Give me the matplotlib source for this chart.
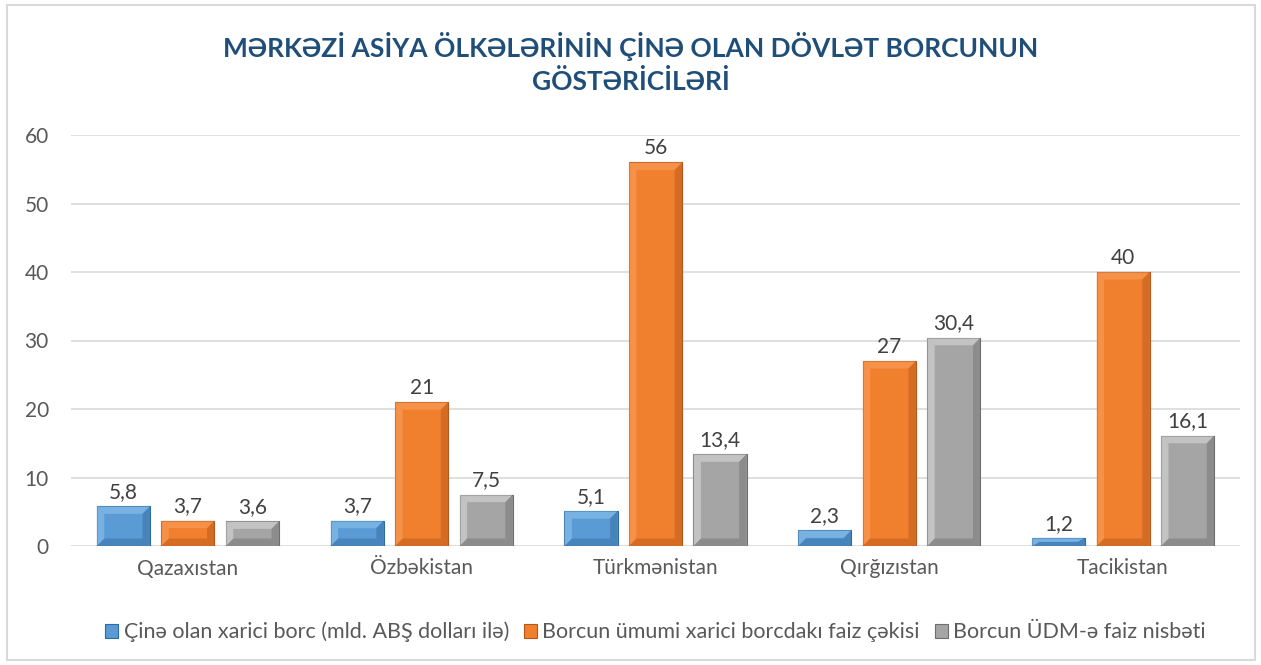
import numpy as np
import matplotlib.pyplot as plt
from matplotlib.patches import Polygon, Rectangle

# Daten
countries = ['Qazaxıstan', 'Özbəkistan', 'Türkmənistan', 'Qırğızıstan', 'Tacikistan']
borc = [5.8, 3.7, 5.1, 2.3, 1.2]           # Çinə olan xarici borc
faiz_cekisi = [3.7, 21, 56, 27, 40]        # faiz çəkisi
udm_nisbeti = [3.6, 7.5, 13.4, 30.4, 16.1]  # ÜDM-ə nisbət
labels = ['Çinə olan xarici borc (mld. ABŞ dolları ilə)',
          'Borcun ümumi xarici borcdakı faiz çəkisi',
          'Borcun ÜDM-ə faiz nisbəti']
title = 'MƏRKƏZİ ASİYA ÖLKƏLƏRİNİN ÇİNƏ OLAN DÖVLƏT BORCUNUN\nGÖSTƏRİCİLƏRİ'

plt.rcParams['font.family'] = ['Lato', 'Open Sans', 'DejaVu Sans']

colors = ['#5B9BD5', '#F07F2E', '#A5A5A5']
light = ['#9DD0F5', '#FFA868', '#E8E8E8']
dark = ['#2F6A9E', '#B5561A', '#6E6E6E']

fig = plt.figure(figsize=(12.61, 6.65), dpi=100)
ax = fig.add_axes([71/1261, 1-546/665, (1240-71)/1261, (546-135)/665])

x = np.arange(len(countries))
w = 0.227
off = 0.276
series = [borc, faiz_cekisi, udm_nisbeti]

def bevel(ax, bar, i):
    # einfacher Bevel-Effekt wie in Excel
    bx, by = bar.get_x(), bar.get_y()
    bw, bh = bar.get_width(), bar.get_height()
    dx = bw * 0.14
    dy = min(1.1, bh / 2)
    dx2 = min(dx, bw / 2)
    pts = [
        ([(bx, by + bh), (bx + bw, by + bh), (bx + bw - dx2, by + bh - dy), (bx + dx2, by + bh - dy)], light[i]),
        ([(bx, by), (bx + bw, by), (bx + bw - dx2, by + dy), (bx + dx2, by + dy)], dark[i]),
        ([(bx, by), (bx, by + bh), (bx + dx2, by + bh - dy), (bx + dx2, by + dy)], light[i]),
        ([(bx + bw, by), (bx + bw, by + bh), (bx + bw - dx2, by + bh - dy), (bx + bw - dx2, by + dy)], dark[i]),
    ]
    for p, c in pts:
        ax.add_patch(Polygon(p, closed=True, facecolor=c, edgecolor='none', alpha=0.45, zorder=3))

for i, vals in enumerate(series):
    bars = ax.bar(x + (i - 1) * off, vals, w, color=colors[i], edgecolor=dark[i],
                  linewidth=0.8, zorder=2, label=labels[i])
    for b in bars:
        bevel(ax, b, i)
    txt = [('%g' % v).replace('.', ',') for v in vals]
    ax.bar_label(bars, labels=txt, padding=3, fontsize=15, color='#404040')

ax.set_ylim(0, 60)
ax.set_xlim(-0.5, 4.5)
ax.set_yticks(range(0, 61, 10))
ax.set_xticks(x)
ax.set_xticklabels(countries)
ax.tick_params(length=0, labelsize=15, colors='#595959')
ax.tick_params(axis='y', pad=16)
ax.tick_params(axis='x', pad=9)
ax.grid(axis='y', color='#D9D9D9', linewidth=1.2, zorder=0)
ax.set_axisbelow(True)
for s in ax.spines.values():
    s.set_visible(False)

fig.text(0.5, 1 - 63/665, title, ha='center', va='center', fontsize=19,
         fontweight='bold', color='#1F4E79', linespacing=1.35)

ax.legend(loc='center', bbox_to_anchor=(0.5, (546 - 632) / (546 - 135)), ncol=3,
          frameon=False, fontsize=15.5, labelcolor='#595959', handlelength=0.6,
          handleheight=0.6, handletextpad=0.25, columnspacing=0.7)

fig.add_artist(Rectangle((7/1261, 5/665), 1248/1261, 655/665, transform=fig.transFigure,
                         fill=False, edgecolor='#D9D9D9', linewidth=1.5))

fig.savefig('out.png', dpi=100)
